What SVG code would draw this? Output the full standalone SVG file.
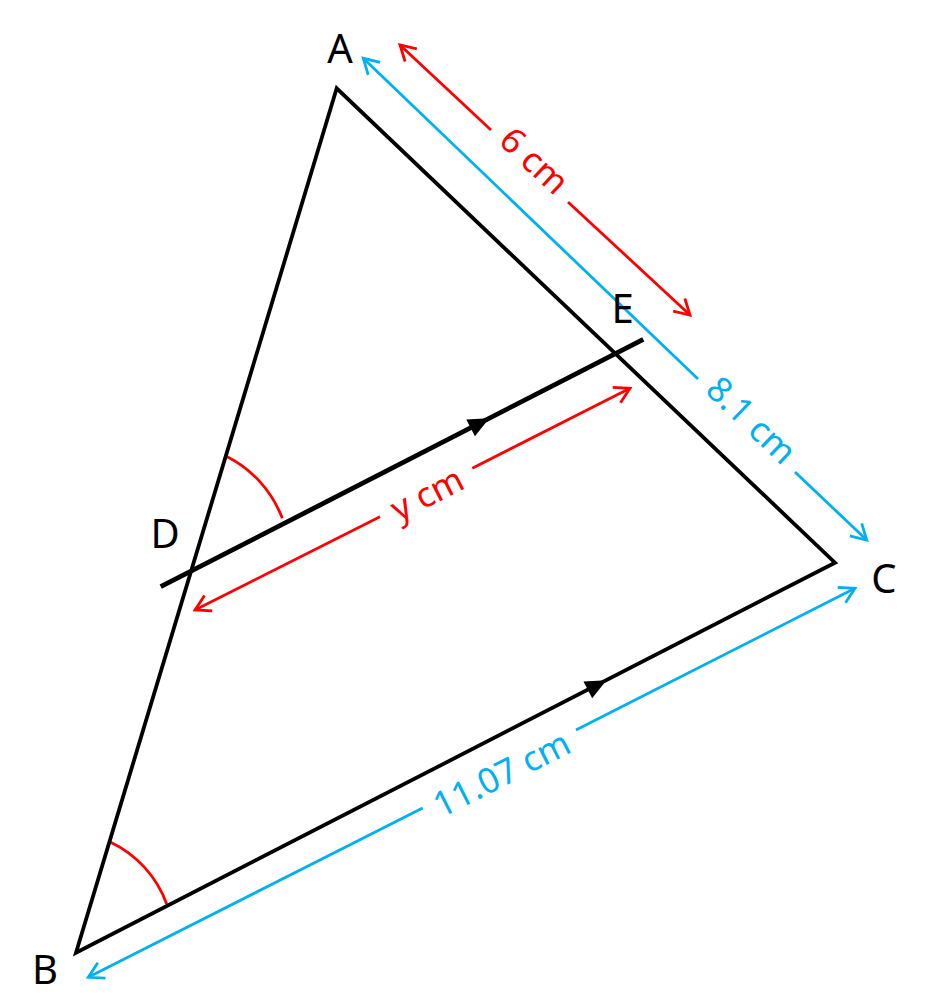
<svg xmlns="http://www.w3.org/2000/svg" width="928" height="1007" viewBox="0 0 928 1007">
<defs>
<style>
.tri{fill:none;stroke:#000;stroke-width:3.8;stroke-linejoin:miter}
.par{stroke:#000;stroke-width:4.8;fill:none}
.red{stroke:#FF0000;stroke-width:2.8;fill:none}
.blue{stroke:#00B0F0;stroke-width:2.8;fill:none}
.lbl{font-family:"Noto Sans","Liberation Sans",sans-serif;font-size:40px;fill:#000;text-anchor:middle}
.dim{font-family:"Noto Sans","Liberation Sans",sans-serif;font-size:35px;text-anchor:middle}
</style>
<marker id="mr" markerUnits="userSpaceOnUse" markerWidth="40" markerHeight="40" viewBox="-20 -20 40 40" refX="0" refY="0" orient="auto">
<path d="M-15,-8.6 L0,0 L-15,8.6" fill="none" stroke="#FF0000" stroke-width="2.8"/>
</marker>
<marker id="mb" markerUnits="userSpaceOnUse" markerWidth="40" markerHeight="40" viewBox="-20 -20 40 40" refX="0" refY="0" orient="auto">
<path d="M-15,-8.6 L0,0 L-15,8.6" fill="none" stroke="#00B0F0" stroke-width="2.8"/>
</marker>
<path id="ah" d="M0,0 L-21,-9.5 L-21,9.5 Z" fill="#000"/>
</defs>
<rect width="928" height="1007" fill="#fff"/>

<g id="connectors">
<g id="dim-AE">
<line class="red" x1="491" y1="130" x2="400" y2="45" marker-end="url(#mr)"/>
<line class="red" x1="568" y1="202" x2="690" y2="315" marker-end="url(#mr)"/>
<text class="dim" fill="#FF0000" transform="translate(529.5,166) rotate(43)" x="0" y="5">6 cm</text>
</g>
<g id="dim-AC">
<line class="blue" x1="698" y1="379" x2="363.3" y2="58.3" marker-end="url(#mb)"/>
<line class="blue" x1="795" y1="472" x2="866.7" y2="540" marker-end="url(#mb)"/>
<text class="dim" fill="#00B0F0" transform="translate(746.5,425.5) rotate(43.7)" x="0" y="5">8.1 cm</text>
</g>
<g id="dim-DE">
<line class="red" x1="380" y1="516.7" x2="195" y2="610" marker-end="url(#mr)"/>
<line class="red" x1="472.3" y1="468.3" x2="630" y2="388.3" marker-end="url(#mr)"/>
<text class="dim" fill="#FF0000" transform="translate(426.2,492.5) rotate(-27)" x="0" y="14">y cm</text>
</g>
<g id="dim-BC">
<line class="blue" x1="422.7" y1="808" x2="88.3" y2="977.3" marker-end="url(#mb)"/>
<line class="blue" x1="576" y1="730" x2="855" y2="588.3" marker-end="url(#mb)"/>
<text class="dim" fill="#00B0F0" transform="translate(499.4,769.7) rotate(-26.9)" x="0" y="17">11.07 cm</text>
</g>
<g id="angles">
<path class="red" d="M227.3,456.7 A115,115 0 0 1 282.3,518.3"/>
<path class="red" d="M110.7,842.3 A110,110 0 0 1 166.7,904"/>
</g>
</g>

<g id="triangle-ABC">
<polygon class="tri" points="336.7,88.3 76,952.7 835,562.7"/>
<use href="#ah" transform="translate(606.5,680.3) rotate(-27.2)"/>
</g>
<g id="line-DE">
<line class="par" x1="160.7" y1="586.7" x2="643.3" y2="339.3"/>
<use href="#ah" transform="translate(489.3,418.3) rotate(-27.1)"/>
</g>

<g id="node-A"><text class="lbl" x="340" y="62.7">A</text></g>
<g id="node-B"><text class="lbl" x="45" y="984">B</text></g>
<g id="node-C"><text class="lbl" x="884" y="593">C</text></g>
<g id="node-D"><text class="lbl" x="165" y="548.3">D</text></g>
<g id="node-E"><text class="lbl" x="622.5" y="322.7">E</text></g>
</svg>
